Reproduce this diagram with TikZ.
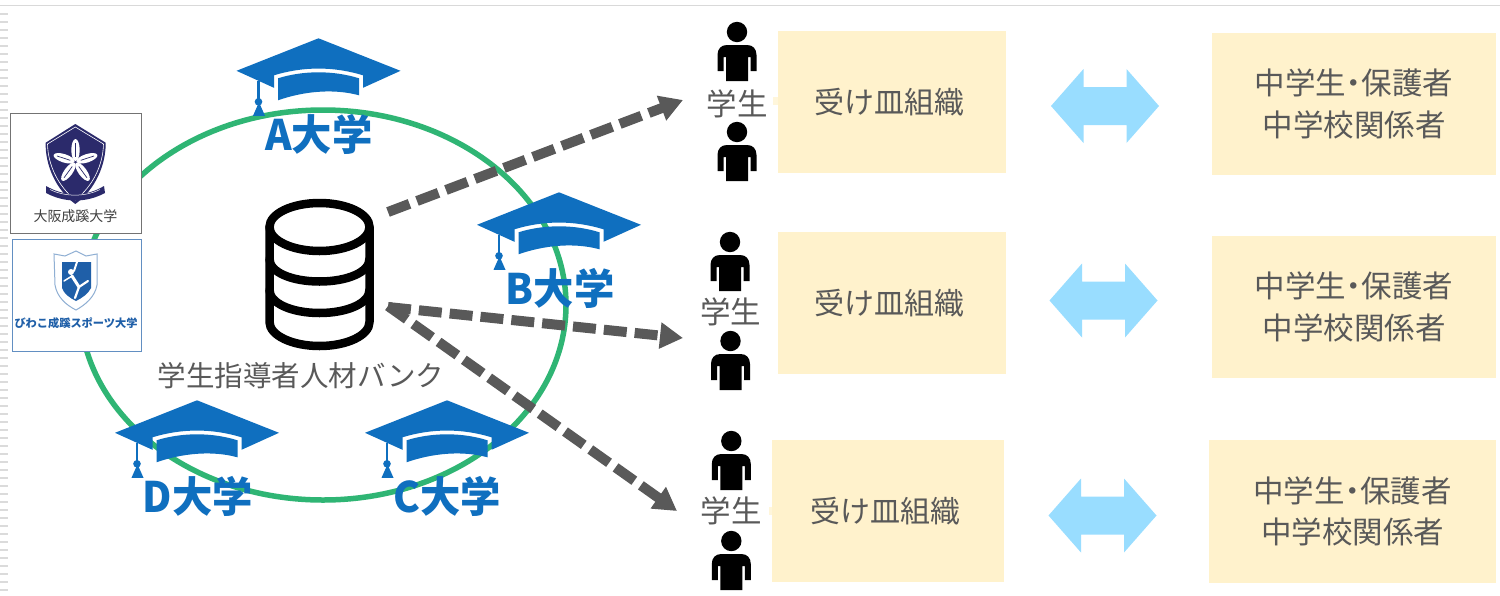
\documentclass[tikz,border=0pt]{standalone}
\usepackage{fontspec}
\setmainfont{Noto Sans CJK JP}
\usetikzlibrary{arrows.meta}
\definecolor{capblue}{HTML}{0F6FBF}
\definecolor{ringgreen}{HTML}{2FB574}
\definecolor{boxyellow}{HTML}{FFF2CC}
\definecolor{txtgray}{HTML}{595959}
\definecolor{arrowblue}{HTML}{99DDFF}
\definecolor{navy}{HTML}{2B2A6B}
\definecolor{logoblue}{HTML}{1F5FA8}
\newcommand{\fs}[1]{\fontsize{#1}{#1}\selectfont}
\tikzset{
  x=1pt,y=-1pt,
  orgbox/.style={fill=boxyellow,draw=none,inner sep=0pt,text=txtgray,align=center,font=\fs{30}},
  pplbox/.style={orgbox,font=\fs{30.5}},
  studlabel/.style={inner sep=0pt,text=txtgray,font=\fs{30.5}},
  unilabel/.style={inner sep=0pt,text=capblue,font=\fs{42}\bfseries,xscale=.96,transform shape},
  dasharrow/.style={draw=txtgray,line width=10pt,dash pattern=on 23pt off 8pt,-{Triangle[length=23pt,width=25pt]}},
  capicon/.pic={
    \fill[capblue] (0,0) -- (82,32.5) -- (44.5,49.5) -- (44.5,37) .. controls (15,28) and (-15,28) .. (-44.5,37) -- (-44.5,49.5) -- (-82,32.5) -- cycle;
    \fill[capblue] (-40.5,40) .. controls (-15,32) and (15,32) .. (40.5,40) -- (40.5,57) .. controls (15,50) and (-15,53) .. (-40.5,62) -- cycle;
    \draw[capblue,line width=2.5pt] (-60,43) -- (-60,63);
    \fill[capblue] (-60,63.5) circle (3.8);
    \fill[capblue] (-59.5,64) -- (-65.5,77.5) -- (-53.5,77.5) -- cycle;
  },
  personicon/.pic={
    \fill[black] (0,0) circle (10.2);
    \fill[black] (-10,13) -- (10,13) .. controls (16,13) and (19.5,17) .. (19.5,23) -- (19.5,39) -- (13.5,39) -- (13.5,25) -- (11,25) -- (11,49) -- (-11,49) -- (-11,25) -- (-13.5,25) -- (-13.5,39) -- (-19.5,39) -- (-19.5,23) .. controls (-19.5,17) and (-16,13) .. (-10,13) -- cycle;
  },
  dblarrow/.pic={
    \fill[arrowblue] (-54,0) -- (-21.5,-37) -- (-21.5,-19) -- (21.5,-19) -- (21.5,-37) -- (54,0) -- (21.5,37) -- (21.5,19) -- (-21.5,19) -- (-21.5,37) -- cycle;
  },
}
\newcommand{\orgtext}{\raisebox{-3pt}{受け皿組織}\hspace{6pt}}
\newcommand{\pplines}{\raisebox{-3.5pt}{中学生\hspace{-7.5pt}・\hspace{-7.5pt}保護者}\\[11pt]\raisebox{-3.5pt}{中学校関係者}}
\begin{document}
\begin{tikzpicture}
\useasboundingbox (0,0) rectangle (1500,595);
\fill[white] (0,0) rectangle (1500,595);
% slide edge
\draw[draw=black!15,line width=1.7pt] (0,5.5) -- (1500,5.5);
\foreach \yy in {14,22,...,590} \draw[draw=black!14,line width=1.3pt] (0,\yy) -- (8,\yy);
% ring
\draw[ringgreen,line width=5.5pt] (323,305) ellipse (243 and 195);
% caps
\pic at (318.5,38.3) {capicon};
\pic at (559,192.3) {capicon};
\pic at (197,400.3) {capicon};
\pic at (447,400.3) {capicon};
\node[unilabel] (ua) at (319,134) {A大学};
\node[unilabel] (ub) at (560,288) {B大学};
\node[unilabel] (ud) at (198,496) {D大学};
\node[unilabel] (uc) at (447,496) {C大学};
% logos
\node[draw=black!55,fill=white,line width=1pt,minimum width=131pt,minimum height=120pt,inner sep=0pt] (logoa) at (75.5,173) {};
\fill[navy] (75.3,124) -- (105.7,142.7) .. controls (106,165) and (95,190) .. (75.3,204) .. controls (56,190) and (45,165) .. (45.7,142.7) -- cycle;
\draw[white,line width=.6pt] (75.3,127) -- (103.5,144) .. controls (103,165) and (93,186) .. (75.3,200) .. controls (58,186) and (48,165) .. (47.5,144) -- cycle;
\foreach \aa in {90,162,234,306,18}{
  \fill[white,rotate around={\aa:(75.5,162)}] (87.5,162) ellipse (11 and 4.2);
  \draw[navy,line width=.7pt,rotate around={\aa:(75.5,162)}] (81,162) -- (95,162);
}
\fill[navy] (46,186) .. controls (65,197) and (86,197) .. (104,186) -- (105,193) .. controls (86,203) and (65,203) .. (46,193) -- cycle;
\draw[white,line width=.5pt] (50,189.5) .. controls (65,197) and (85,197) .. (100,189.5);
\node[inner sep=0pt,text=black!75,font=\fs{14}] (logoatext) at (75.5,216) {大阪成蹊大学};
\node[draw=logoblue!70,fill=white,line width=1pt,minimum width=129pt,minimum height=112pt,inner sep=0pt] (logob) at (76.5,295) {};
\fill[white,draw=logoblue!50,line width=1pt] (54,254) -- (65,256) -- (76,251) -- (86,256) -- (97,254) -- (97,285) .. controls (95,297) and (85,305) .. (76,310) .. controls (66,305) and (57,297) .. (55,285) -- cycle;
\fill[logoblue] (62,262) -- (91,262) -- (91,288) .. controls (88,294) and (82,298) .. (76,301) .. controls (70,298) and (64,294) .. (62,288) -- cycle;
\draw[white,line width=2pt,line cap=round] (78,259) -- (74,271);
\fill[white] (71,272) circle (3);
\draw[white,line width=3pt,line cap=round] (72,276) -- (79,287);
\draw[white,line width=2.2pt,line cap=round] (79,287) -- (75,298);
\draw[white,line width=2.2pt,line cap=round] (79,287) -- (88,281);
\draw[white,line width=1.5pt,line cap=round] (72,276) -- (64,281);
\node[inner sep=0pt,text=logoblue,font=\fs{11.2}\bfseries] (logobtext) at (76,323) {びわこ成蹊スポーツ大学};
% database
\node[inner sep=0pt,minimum width=110pt,minimum height=152pt] (db) at (319.5,275) {};
\begin{scope}[line width=8.5pt,draw=black,line cap=round,line join=round]
\draw (269.5,227) .. controls (269.5,213.7) and (292,203) .. (319.5,203) .. controls (347,203) and (369.5,213.7) .. (369.5,227) .. controls (369.5,240.3) and (347,251) .. (319.5,251) .. controls (292,251) and (269.5,240.3) .. (269.5,227) -- cycle;
\draw (269.5,227) -- (269.5,322) .. controls (269.5,335.3) and (292,346) .. (319.5,346) .. controls (347,346) and (369.5,335.3) .. (369.5,322) -- (369.5,227);
\draw (269.5,259) .. controls (269.5,272.3) and (292,281.5) .. (319.5,281.5) .. controls (347,281.5) and (369.5,272.3) .. (369.5,259);
\draw (269.5,290) .. controls (269.5,303.3) and (292,313) .. (319.5,313) .. controls (347,313) and (369.5,303.3) .. (369.5,290);
\end{scope}
\node[inner sep=0pt,text=txtgray,font=\fs{28.5}] (bank) at (301,376) {学生指導者人材バンク};
% students
\pic at (737,32) {personicon};
\pic at (737,132) {personicon};
\node[studlabel] (s1) at (737,104) {学生};
\pic at (730,242) {personicon};
\pic at (730.5,341) {personicon};
\node[studlabel] (s2) at (730.5,312) {学生};
\pic at (731.3,441) {personicon};
\pic at (731.3,541) {personicon};
\node[studlabel] (s3) at (731,511) {学生};
% dashed connectors
\coordinate (o1) at (388,212);
\coordinate (o2) at (388,307);
\coordinate (o3) at (388,306);
\coordinate (t1) at (683,100);
\coordinate (t2) at (683,338);
\coordinate (t3) at (677,511);
\draw[dasharrow] (o1) -- (t1);
\draw[dasharrow] (o2) -- (t2);
\draw[dasharrow] (o3) -- (t3);
% boxes
\fill[boxyellow!70] (773,97) rectangle (779,105);
\fill[boxyellow!70] (769,507) rectangle (773,515);
\node[orgbox,minimum width=228pt,minimum height=142pt] (r1) at (892,102) {\orgtext};
\node[orgbox,minimum width=228pt,minimum height=142pt] (r2) at (892,303) {\orgtext};
\node[orgbox,minimum width=232pt,minimum height=142pt] (r3) at (888,511) {\orgtext};
\node[pplbox,minimum width=284pt,minimum height=142pt] (p1) at (1354,104) {\pplines};
\node[pplbox,minimum width=284pt,minimum height=142pt] (p2) at (1354,307) {\pplines};
\node[pplbox,minimum width=287pt,minimum height=143pt] (p3) at (1352.5,511.5) {\pplines};
\pic at (1105,106) {dblarrow};
\pic at (1103.5,300.5) {dblarrow};
\pic at (1102.5,515.5) {dblarrow};
\end{tikzpicture}
\end{document}
